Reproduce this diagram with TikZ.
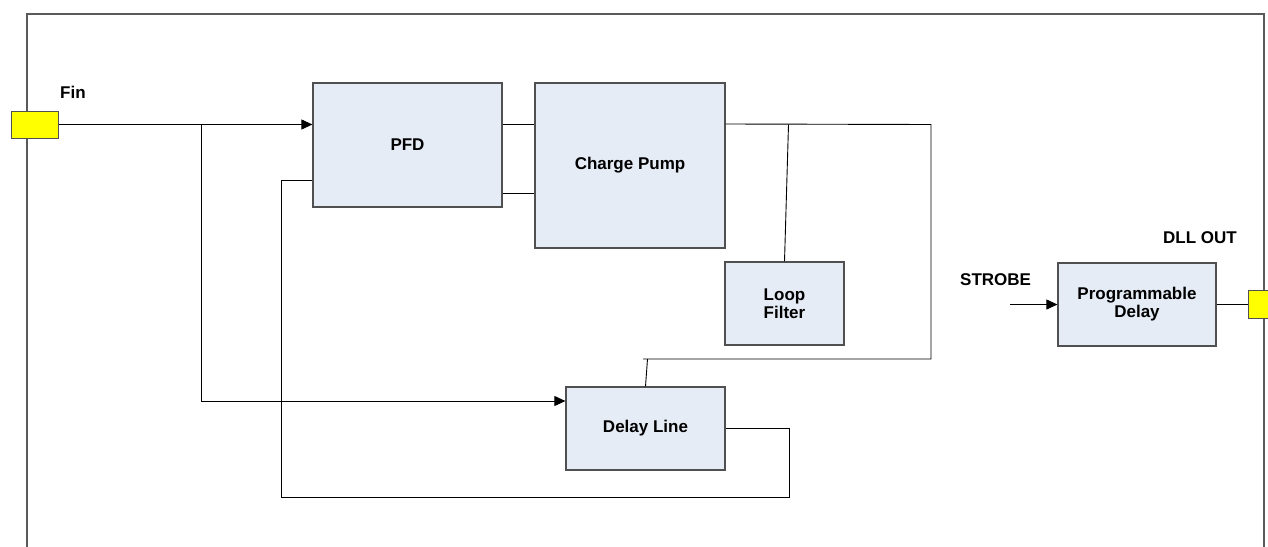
\documentclass[tikz,border=0pt]{standalone}
\usepackage{fontspec}
\setmainfont{Liberation Sans}
\usetikzlibrary{arrows.meta}
\definecolor{boxfill}{HTML}{E6ECF6}
\definecolor{boxline}{HTML}{505050}
\definecolor{frameline}{HTML}{5A5A5A}
\definecolor{portfill}{HTML}{FFFF00}
\newcommand{\lblfont}{\fontsize{17}{18}\selectfont\bfseries}
\begin{document}
\begin{tikzpicture}[x=1pt,y=-1pt,
  blk/.style={draw=boxline, fill=boxfill, line width=1.2pt, inner sep=0pt, font=\lblfont, align=center},
  port/.style={draw=boxline, fill=portfill, line width=1pt, inner sep=0pt},
  wire/.style={draw=black, line width=0.9pt},
  arr/.style={wire, -{Triangle[length=11pt,width=10pt]}},
  lbl/.style={font=\lblfont, inner sep=0pt, anchor=base west}]
\useasboundingbox (0,0) rectangle (1268,546);
% frame
\draw[frameline, line width=1.3pt] (27,560) -- (27,14) -- (1264,14) -- (1264,560);
% blocks
\node[port, minimum width=47pt, minimum height=27pt] (fin) at (34.5,124.5) {};
\node[port, minimum width=42pt, minimum height=28pt] (out) at (1269,304.5) {};
\node[blk, minimum width=189pt, minimum height=124pt] (pfd) at (407.5,145) {PFD};
\node[blk, minimum width=190pt, minimum height=165pt] (cp) at (630,165.5) {Charge Pump};
\node[blk, minimum width=119pt, minimum height=83pt] (lf) at (784.5,303.5) {Loop\\Filter};
\node[blk, minimum width=159pt, minimum height=83pt] (dl) at (645.5,428.5) {Delay Line};
\node[blk, minimum width=158pt, minimum height=83pt] (pd) at (1137,304.5) {Programmable\\Delay};
% labels
\node[lbl] (finlbl) at (60,98) {Fin};
\node[lbl] (strobelbl) at (960,285) {STROBE};
\node[lbl] (dlllbl) at (1163,243) {DLL OUT};
% coordinates
\coordinate (j1) at (201,124.5);
\coordinate (dlin) at ([yshift=27.5pt]dl.west);
\coordinate (p1) at ([yshift=21pt]pfd.east);
\coordinate (p2) at ([yshift=-48pt]pfd.east);
\coordinate (c1) at ([yshift=41.5pt]cp.east);
\coordinate (lfj) at (788.5,124.5);
\coordinate (r1) at (931,124.5);
\coordinate (r2) at (931,359);
\coordinate (l1) at (643,359);
\coordinate (l2) at (647.5,359);
\coordinate (fb1) at (789,428.5);
\coordinate (fb2) at (789,497);
\coordinate (fb3) at (281,497);
\coordinate (pfdfb) at ([yshift=-35pt]pfd.west);
\coordinate (strobe) at (1010,304.5);
% connectors
\draw[arr] (fin.east) -- (fin.east -| pfd.west);
\draw[arr] (j1) |- (dlin);
\draw[wire] (p1) -- (p1 -| cp.west);
\draw[wire] (p2) -- (p2 -| cp.west);
\draw[wire] (c1) -- (r1) -- (r2) -- (l1);
\draw[wire] (lfj) -- (lf.north);
\draw[wire] (l2) -- (dl.north);
\draw[wire] (dl.east) -- (fb1) -- (fb2) -- (fb3) |- (pfdfb);
\draw[arr] (strobe) -- (pd.west);
\draw[wire] (pd.east) -- (out.west);
\end{tikzpicture}
\end{document}
